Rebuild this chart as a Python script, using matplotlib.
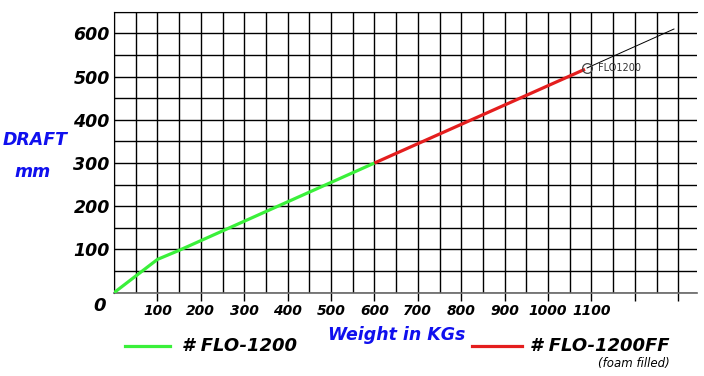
import numpy as np
import matplotlib
matplotlib.use('Agg')
import matplotlib.pyplot as plt
from matplotlib.lines import Line2D

# FLO-1200 (green) and FLO-1200FF foam filled (red), draft vs weight
w_flo = [0, 100, 150, 600]
d_flo = [0, 77, 98, 300]
w_ff = [600, 1085]
d_ff = [300, 517]
w_ext = [1090, 1290]
d_ext = [520, 610]
mark_w, mark_d = 1090, 520

xticks = np.arange(100, 1301, 100)
xlabels = [str(v) if v <= 1100 else '' for v in xticks]
yticks = np.arange(100, 601, 100)

fnt = dict(family='DejaVu Sans', weight='bold', style='italic')

fig = plt.figure(figsize=(7.04, 3.76), dpi=100)
ax = fig.add_axes([0.1619, 0.2215, 0.8281, 0.7473])

ax.set_xlim(0, 1343)
ax.set_ylim(0, 650)

# grid every 50
ax.set_xticks(np.arange(0, 1301, 50), minor=True)
ax.set_yticks(np.arange(0, 651, 50), minor=True)
ax.set_xticks(xticks)
ax.set_xticklabels(xlabels, fontsize=10, **fnt)
ax.set_yticks(yticks)
ax.set_yticklabels([str(v) for v in yticks], fontsize=12.5, **fnt)
ax.grid(True, which='both', color='black', lw=1.0)
ax.set_axisbelow(True)

ax.tick_params(axis='x', which='major', length=6, width=1.0, direction='out', pad=2)
ax.tick_params(axis='x', which='minor', length=0)
ax.tick_params(axis='y', which='both', length=0, pad=3)

ax.spines['right'].set_visible(False)
ax.spines['top'].set_color('black')
ax.spines['left'].set_color('black')
ax.spines['bottom'].set_color('#666666')
ax.spines['bottom'].set_linewidth(1.2)

ax.plot(w_flo, d_flo, color='#3af03a', lw=2.3, solid_capstyle='butt', zorder=3)
ax.plot(w_ff, d_ff, color='#e41e1e', lw=2.3, solid_capstyle='butt', zorder=3)
ax.plot(w_ext, d_ext, color='black', lw=0.7, zorder=3)
ax.plot([mark_w], [mark_d], 'o', mfc='none', mec='#444444', ms=7, mew=0.9, zorder=4)
ax.text(mark_w + 25, mark_d, 'FLO1200', fontsize=7, color='#333333',
        va='center', ha='left', family='DejaVu Sans')

fig.text(0.142, 0.186, '0', fontsize=13, ha='center', va='center', **fnt)

fig.text(0.0497, 0.6277, 'DRAFT', color='#1010ee', fontsize=12.5, ha='center', va='center', **fnt)
fig.text(0.0462, 0.5434, 'mm', color='#1010ee', fontsize=12.5, ha='center', va='center', **fnt)
fig.text(0.5635, 0.109, 'Weight in KGs', color='#1010ee', fontsize=12.5, ha='center', va='center', **fnt)

# legend by hand
fig.add_artist(Line2D([0.1776, 0.2415], [0.0798, 0.0798], color='#3af03a', lw=2.3))
fig.text(0.258, 0.0785, '# FLO-1200', fontsize=13, ha='left', va='center', **fnt)
fig.add_artist(Line2D([0.670, 0.741], [0.0798, 0.0798], color='#e41e1e', lw=2.3))
fig.text(0.7528, 0.0785, '# FLO-1200FF', fontsize=13, ha='left', va='center', **fnt)
fig.text(0.9006, 0.034, '(foam filled)', fontsize=8.5, ha='center', va='center',
         family='DejaVu Sans', style='italic')

fig.savefig('out.png', dpi=100)
